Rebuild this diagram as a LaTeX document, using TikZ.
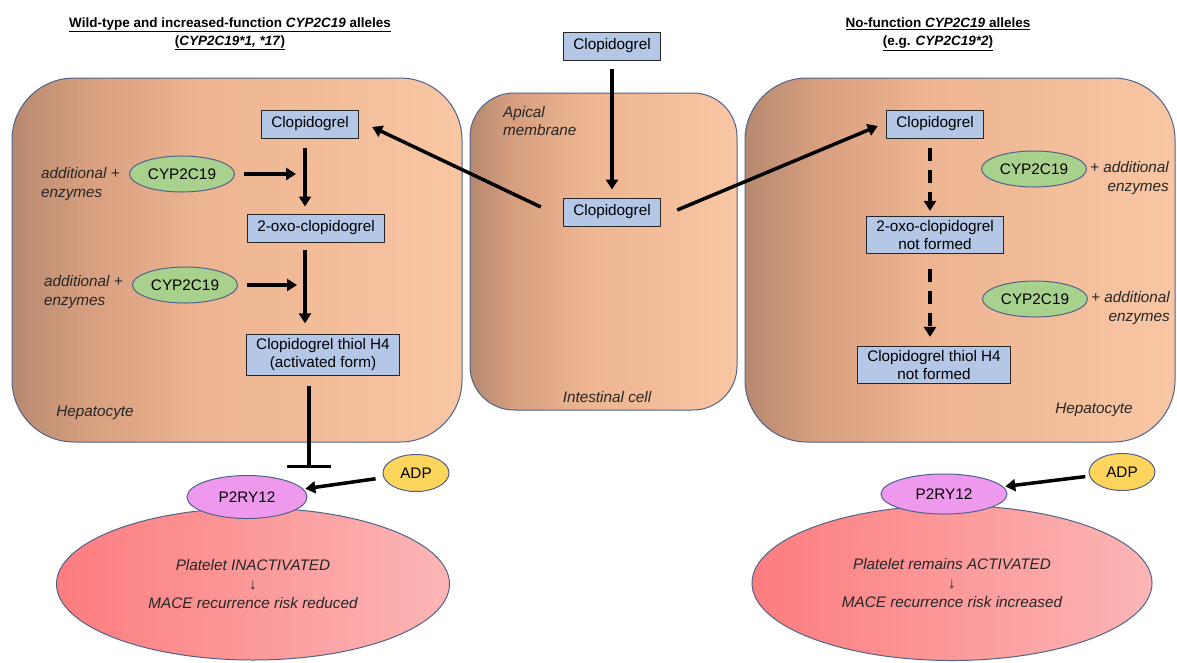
\documentclass[tikz,border=0pt]{standalone}
\usepackage{fontspec}
\setmainfont{Liberation Sans}
\usetikzlibrary{positioning,shapes.geometric,arrows.meta}
\definecolor{boxblue}{RGB}{180,199,231}
\definecolor{enzgreen}{RGB}{169,209,142}
\definecolor{edgeblue}{RGB}{80,98,138}
\definecolor{cellL}{RGB}{182,137,112}
\definecolor{cellA}{RGB}{214,158,126}
\definecolor{cellM}{RGB}{237,180,145}
\definecolor{cellR}{RGB}{249,198,163}
\definecolor{p2pink}{RGB}{238,152,238}
\definecolor{adpyellow}{RGB}{253,212,92}
\definecolor{platL}{RGB}{252,124,126}
\definecolor{platR}{RGB}{252,182,182}
\pgfdeclarehorizontalshading{cellshade}{100bp}{color(0bp)=(cellL); color(25bp)=(cellL);
  color(33bp)=(cellA); color(46bp)=(cellM); color(75bp)=(cellR); color(100bp)=(cellR)}

\begin{document}
\begin{tikzpicture}[x=1pt,y=-1pt,
    every node/.style={font=\fontsize{15.3}{18}\selectfont},
    box/.style={draw=black!85,fill=boxblue,line width=1pt,inner xsep=10pt,inner ysep=4pt,minimum height=28pt,align=center},
    enzyme/.style={ellipse,draw=edgeblue,fill=enzgreen,line width=1pt,minimum width=105pt,minimum height=36pt,inner sep=0pt},
    note/.style={font=\fontsize{15.3}{18.5}\selectfont\itshape,text=black!85,inner sep=0pt},
    title/.style={font=\fontsize{13.5}{18}\selectfont\bfseries,align=center,inner sep=0pt},
    cell/.style={draw=edgeblue,line width=1pt,shade,shading=cellshade},
    platelet/.style={ellipse,draw=edgeblue,line width=1pt,left color=platL,right color=platR,inner sep=0pt,align=center,
      font=\fontsize{15.3}{19}\selectfont\itshape,text=black!85},
    receptor/.style={ellipse,draw=edgeblue,fill=p2pink,line width=1pt,inner sep=0pt},
    ligand/.style={ellipse,draw=edgeblue,fill=adpyellow,line width=1pt,inner sep=0pt,minimum width=66pt,minimum height=37pt},
    flow/.style={-{Triangle[length=10pt,width=12pt]},line width=3.5pt},
    noflow/.style={flow,dash pattern=on 13pt off 9pt},
    inhibit/.style={-{Bar[width=44pt]},line width=3.5pt}]
    \useasboundingbox (0,0) rectangle (1177,662);

    % cells
    \path[cell,rounded corners=62pt] (12,78) rectangle (462,442);
    \path[cell,rounded corners=44pt] (470,93) rectangle (737,410);
    \path[cell,rounded corners=62pt] (745,78) rectangle (1175,442);

    % titles
    \node[title] (ltitle) at (230,34) {\underline{Wild-type and increased-function \textit{CYP2C19} alleles}\\
        \underline{(\textit{CYP2C19*1, *17})}};
    \node[title] (rtitle) at (938,34) {\underline{No-function \textit{CYP2C19} alleles}\\
        \underline{(e.g. \textit{CYP2C19*2})}};

    % intestinal cell
    \node[box] (clop0) at (612,46) {Clopidogrel};
    \node[box] (clop2) at (612,212) {Clopidogrel};
    \node[note,anchor=west,align=left] (apical) at (503,121) {Apical\\membrane};
    \node[note] (intest) at (607,397) {Intestinal cell};

    % left hepatocyte
    \node[box] (clop1) at (310,124) {Clopidogrel};
    \node[box] (oxo1) at (316,228) {2-oxo-clopidogrel};
    \node[box] (thiol1) at (323,355) {Clopidogrel thiol H4\\(activated form)};
    \node[enzyme] (cyp1) at (182,174) {CYP2C19};
    \node[enzyme] (cyp2) at (185,285) {CYP2C19};
    \node[note,align=left,left=9pt of cyp1,yshift=-10pt] (add1) {additional +\\enzymes};
    \node[note,align=left,left=9pt of cyp2,yshift=-7pt] (add2) {additional +\\enzymes};
    \node[note] (hep1) at (95,413) {Hepatocyte};
    \coordinate (j1) at (296,174);
    \coordinate (j2) at (297,285);
    \coordinate (col1) at (305,0);
    \coordinate (bar1) at (309,468);

    % right hepatocyte
    \node[box] (clop3) at (935,124) {Clopidogrel};
    \node[box] (oxo3) at (935,235) {2-oxo-clopidogrel\\not formed};
    \node[box] (thiol3) at (934,365) {Clopidogrel thiol H4\\not formed};
    \node[enzyme] (cyp3) at (1034,169) {CYP2C19};
    \node[enzyme] (cyp4) at (1035,299) {CYP2C19};
    \node[note,align=right,right=3pt of cyp3,yshift=-9pt] (add3) {+ additional\\enzymes};
    \node[note,align=right,right=3pt of cyp4,yshift=-9pt] (add4) {+ additional\\enzymes};
    \node[note] (hep3) at (1094,410) {Hepatocyte};
    \coordinate (col3) at (930,0);

    % platelets
    \node[platelet,minimum width=393pt,minimum height=152pt] (plat1) at (253,584)
        {Platelet INACTIVATED\\↓\\MACE recurrence risk reduced};
    \node[platelet,minimum width=400pt,minimum height=155pt] (plat3) at (952,583)
        {Platelet remains ACTIVATED\\↓\\MACE recurrence risk increased};
    \node[receptor,minimum width=120pt,minimum height=43pt] (p2y1) at (247,497) {P2RY12};
    \node[receptor,minimum width=126pt,minimum height=40pt] (p2y3) at (944,494) {P2RY12};
    \node[ligand] (adp1) at (416,473) {ADP};
    \node[ligand] (adp3) at (1122,472) {ADP};

    % connectors
    \draw[flow,shorten <=8pt,shorten >=8pt] (clop0) -- (clop2);
    \draw[flow] ([shift={(-22,-5)}]clop2.west) -- ([shift={(13,3)}]clop1.east);
    \draw[flow] ([shift={(16,-2)}]clop2.east) -- ([shift={(-8,2)}]clop3.west);
    \draw[flow,shorten <=9pt,shorten >=7pt] (clop1.south -| col1) -- (oxo1.north -| col1);
    \draw[flow,shorten <=7pt,shorten >=11pt] (oxo1.south -| col1) -- (thiol1.north -| col1);
    \draw[flow,shorten <=9pt] (cyp1) -- (j1);
    \draw[flow,shorten <=9pt] (cyp2) -- (j2);
    \draw[inhibit,shorten <=10pt] (thiol1.south -| bar1) -- (bar1);
    \draw[noflow,shorten <=9pt,shorten >=5pt] (clop3.south -| col3) -- (oxo3.north -| col3);
    \draw[noflow,shorten <=15pt,shorten >=9pt] (oxo3.south -| col3) -- (thiol3.north -| col3);
    \draw[flow,shorten <=8pt,shorten >=2pt] (adp1) -- (p2y1);
    \draw[flow,shorten <=4pt,shorten >=2pt] (adp3) -- (p2y3);
\end{tikzpicture}
\end{document}
